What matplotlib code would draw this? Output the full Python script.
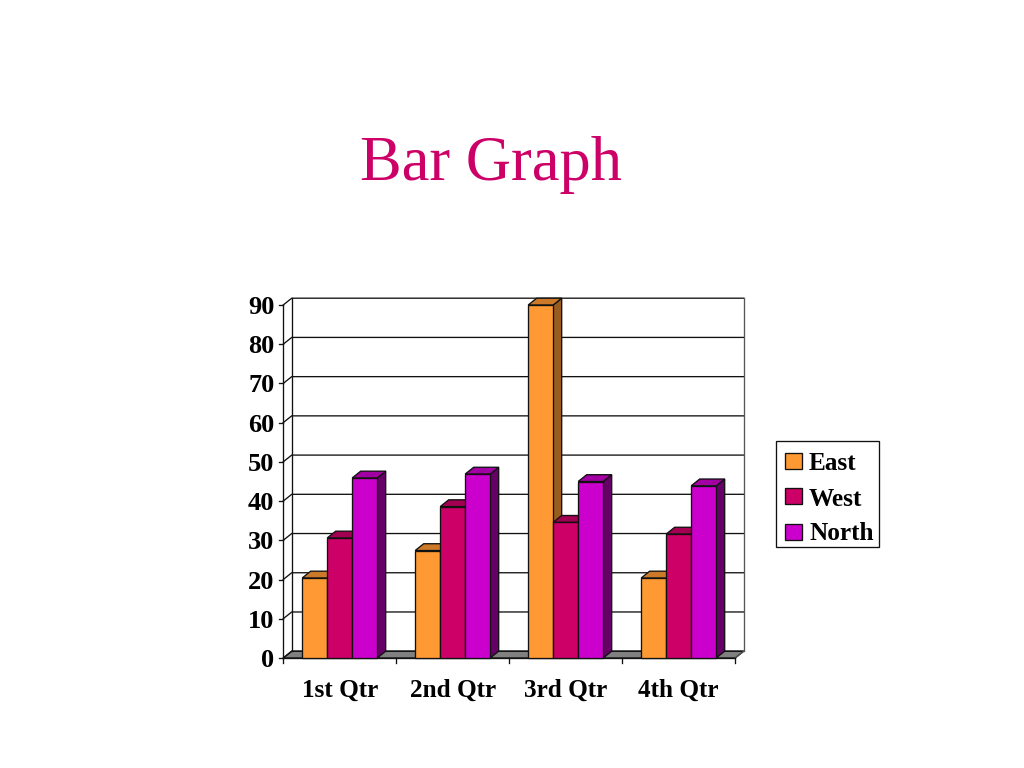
import matplotlib
matplotlib.use("Agg")
import matplotlib.pyplot as plt
from matplotlib.patches import Polygon, Rectangle

categories = ["1st Qtr", "2nd Qtr", "3rd Qtr", "4th Qtr"]
east = [20.4, 27.4, 90, 20.4]
west = [30.6, 38.6, 34.6, 31.6]
north = [45.9, 46.9, 45, 43.9]
series_names = ["East", "West", "North"]
yticks = list(range(0, 100, 10))

front = ["#FF9933", "#CC0066", "#CC00CC"]
top = ["#CC7A29", "#A30052", "#A300A3"]
side = ["#995C1F", "#7A003D", "#660066"]

plt.rcParams["font.family"] = ["Liberation Serif", "DejaVu Serif"]
plt.rcParams["font.weight"] = "bold"

W, H = 1024, 768
fig = plt.figure(figsize=(W / 100, H / 100), dpi=100, facecolor="white")
x0, x1, y0, y1 = 283.2, 735.2, 658, 305
ax = fig.add_axes([x0 / W, 1 - y0 / H, (x1 - x0) / W, (y0 - y1) / H])
ax.set_xlim(-0.5, 3.5)
ax.set_ylim(0, 90)
ax.axis("off")

dx = 8.5 * 4 / (x1 - x0)
dy = 6.8 * 90 / (y0 - y1)
lc = "#111111"
lw = 0.95

def poly(pts, fc, z, ec=lc):
    ax.add_patch(Polygon(pts, closed=True, facecolor=fc, edgecolor=ec, linewidth=lw,
                         zorder=z, clip_on=False, joinstyle="miter"))

# floor
xl, xr = -0.5, 3.5
poly([(xl, 0), (xr, 0), (xr + dx, dy), (xl + dx, dy)], "#808080", 1)
# wall
for v in yticks:
    ax.plot([xl, xl + dx, xr + dx], [v, v + dy, v + dy], color=lc, lw=lw, zorder=1.5, clip_on=False)
ax.plot([xl + dx, xl + dx], [dy, 90 + dy], color=lc, lw=lw, zorder=1.5, clip_on=False)
ax.plot([xr + dx, xr + dx], [dy, 90 + dy], color="#555555", lw=lw, zorder=1.5, clip_on=False)
ax.plot([xr, xr + dx], [0, dy], color="#555555", lw=lw, zorder=1.5, clip_on=False)
# axes lines
ax.plot([xl, xl], [0, 90], color=lc, lw=lw, zorder=1.6, clip_on=False)
ax.plot([xl, xr], [0, 0], color=lc, lw=lw, zorder=1.6, clip_on=False)
for v in yticks:
    ax.plot([xl - 4.5 * 4 / (x1 - x0), xl], [v, v], color=lc, lw=lw, zorder=1.6, clip_on=False)
    ax.text(xl - 8.8 * 4 / (x1 - x0), v, str(v), ha="right", va="center_baseline", fontsize=19, color="black")
for k in range(len(categories) + 1):
    ax.plot([xl + k, xl + k], [0, -5 * 90 / (y0 - y1)], color=lc, lw=lw, zorder=1.6, clip_on=False)

# bars
bw = 25.0 * 4 / (x1 - x0)
z = 2.0
for c, cat in enumerate(categories):
    start = c - 1.5 * bw
    for s, vals in enumerate([east, west, north]):
        v = vals[c]
        a = start + s * bw
        b = a + bw
        poly([(b, 0), (b + dx, dy), (b + dx, v + dy), (b, v)], side[s], z)
        poly([(a, v), (b, v), (b + dx, v + dy), (a + dx, v + dy)], top[s], z)
        ax.bar(a, v, width=bw, align="edge", color=front[s], edgecolor=lc, linewidth=lw, zorder=z + 0.1, clip_on=False)
        z += 0.2
    ax.text(c, -29.5 * 90 / (y0 - y1), cat, ha="center", va="center_baseline", fontsize=18.2, color="black")

# title
fig.text(491 / W, 1 - 164.5 / H, "Bar Graph", ha="center", va="center", fontsize=45,
         color="#CC0066", fontweight="normal")

# legend
fig.add_artist(Rectangle((776 / W, 1 - 547 / H), 103 / W, 106 / H, transform=fig.transFigure,
                         facecolor="white", edgecolor=lc, linewidth=0.95))
for name, col, yc, yt in zip(series_names, front, [461, 496, 532], [461.5, 496.5, 531.5]):
    fig.add_artist(Rectangle((785 / W, 1 - (yc + 8) / H), 17 / W, 16 / H, transform=fig.transFigure,
                             facecolor=col, edgecolor=lc, linewidth=0.95))
    fig.text(809 / W, 1 - yt / H, name, ha="left", va="center_baseline", fontsize=18.2, color="black")

fig.savefig("out.png", dpi=100)
